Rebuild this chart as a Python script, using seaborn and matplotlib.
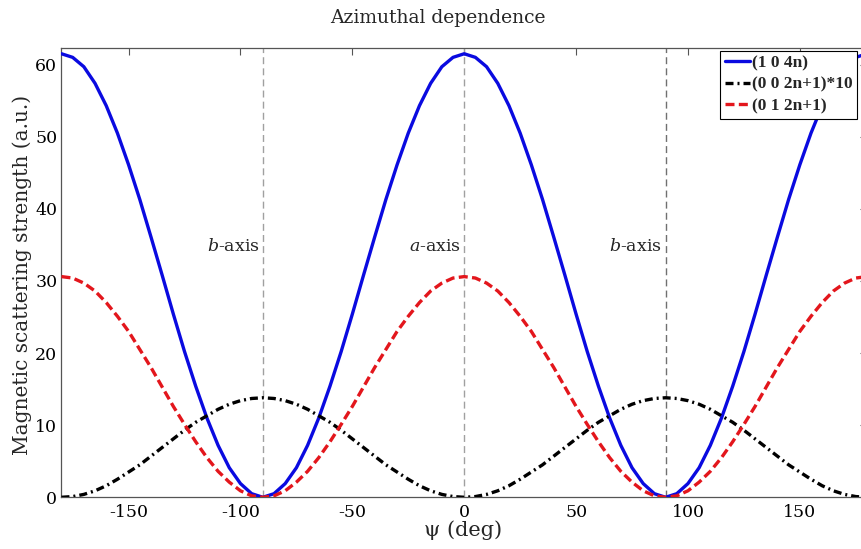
import matplotlib
matplotlib.use("Agg")
import matplotlib.pyplot as plt
import seaborn as sns
import pandas as pd

# Azimuthal angle psi (deg), sampled every 5 degrees
psi = list(range(-180, 181, 5))

# (1 0 4n) reflection intensity
i_104n = [61.5, 61.0, 59.7, 57.4, 54.3, 50.5, 46.1, 41.3, 36.1, 30.8, 25.4, 20.2, 15.4, 11.0, 7.2, 4.1, 1.9, 0.5, 0.0,
          0.5, 1.9, 4.1, 7.2, 11.0, 15.4, 20.2, 25.4, 30.8, 36.1, 41.3, 46.1, 50.5, 54.3, 57.4, 59.7, 61.0, 61.5,
          61.0, 59.7, 57.4, 54.3, 50.5, 46.1, 41.3, 36.1, 30.8, 25.4, 20.2, 15.4, 11.0, 7.2, 4.1, 1.9, 0.5, 0.0,
          0.5, 1.9, 4.1, 7.2, 11.0, 15.4, 20.2, 25.4, 30.8, 36.1, 41.3, 46.1, 50.5, 54.3, 57.4, 59.7, 61.0, 61.5]

# (0 0 2n+1) reflection intensity, scaled by 10
i_002n1 = [0.0, 0.1, 0.4, 0.9, 1.6, 2.5, 3.5, 4.5, 5.7, 6.9, 8.1, 9.3, 10.4, 11.3, 12.2, 12.9, 13.4, 13.7, 13.8,
           13.7, 13.4, 12.9, 12.2, 11.3, 10.4, 9.3, 8.1, 6.9, 5.7, 4.5, 3.5, 2.5, 1.6, 0.9, 0.4, 0.1, 0.0,
           0.1, 0.4, 0.9, 1.6, 2.5, 3.5, 4.5, 5.7, 6.9, 8.1, 9.3, 10.4, 11.3, 12.2, 12.9, 13.4, 13.7, 13.8,
           13.7, 13.4, 12.9, 12.2, 11.3, 10.4, 9.3, 8.1, 6.9, 5.7, 4.5, 3.5, 2.5, 1.6, 0.9, 0.4, 0.1, 0.0]

# (0 1 2n+1) reflection intensity
i_012n1 = [30.6, 30.4, 29.7, 28.6, 27.0, 25.1, 23.0, 20.5, 18.0, 15.3, 12.6, 10.1, 7.7, 5.5, 3.6, 2.1, 0.9, 0.2, 0.0,
           0.2, 0.9, 2.1, 3.6, 5.5, 7.7, 10.1, 12.6, 15.3, 18.0, 20.5, 23.0, 25.1, 27.0, 28.6, 29.7, 30.4, 30.6,
           30.4, 29.7, 28.6, 27.0, 25.1, 23.0, 20.5, 18.0, 15.3, 12.6, 10.1, 7.7, 5.5, 3.6, 2.1, 0.9, 0.2, 0.0,
           0.2, 0.9, 2.1, 3.6, 5.5, 7.7, 10.1, 12.6, 15.3, 18.0, 20.5, 23.0, 25.1, 27.0, 28.6, 29.7, 30.4, 30.6]

series_labels = ["(1 0 4n)", "(0 0 2n+1)*10", "(0 1 2n+1)"]

# Crystal axes marked by vertical guides
axis_positions = [-90, 0, 90]
axis_names = ["$\\it{b}$-axis", "$\\it{a}$-axis", "$\\it{b}$-axis"]

x_ticks = [-150, -100, -50, 0, 50, 100, 150]
y_ticks = [0, 10, 20, 30, 40, 50, 60]

sns.set_style("white")
plt.rcParams["font.family"] = ["DejaVu Serif"]
plt.rcParams["mathtext.fontset"] = "dejavuserif"
plt.rcParams["axes.unicode_minus"] = False

df = pd.DataFrame({"psi": psi, "a": i_104n, "b": i_002n1, "c": i_012n1})

fig = plt.figure(figsize=(8.61, 5.49), dpi=100)
ax = fig.add_axes([0.0714, 0.0942, 0.9355, 0.8184])

for xv, col in zip(axis_positions, ["#a0a0a0", "#a0a0a0", "#707070"]):
    ax.axvline(xv, color=col, lw=1.0, dashes=(5, 3), zorder=1)

sns.lineplot(data=df, x="psi", y="a", ax=ax, color="#0a0ae0", lw=2.4,
             label=series_labels[0], zorder=3)
sns.lineplot(data=df, x="psi", y="b", ax=ax, color="black", lw=2.4,
             dashes=(2.4, 1.2, 0.6, 1.2), label=series_labels[1], zorder=3)
sns.lineplot(data=df, x="psi", y="c", ax=ax, color="#e3161c", lw=2.4,
             dashes=(2.7, 1.3), label=series_labels[2], zorder=3)

for xv, name in zip(axis_positions, axis_names):
    ax.text(xv - 1.5, 34.8, name, ha="right", va="center", fontsize=12.5)

ax.set_xlim(-180, 180)
ax.set_ylim(0, 62.3)
ax.set_xticks(x_ticks)
ax.set_yticks(y_ticks)
ax.tick_params(direction="in", length=5, width=0.8, colors="#555555",
               labelcolor="black", labelsize=12.5, top=True, right=True)
ax.tick_params(axis="x", pad=5)
ax.tick_params(axis="y", pad=3)
for sp in ax.spines.values():
    sp.set_color("#555555")
    sp.set_linewidth(0.9)

ax.set_xlabel("ψ (deg)", fontsize=15)
ax.set_ylabel("Magnetic scattering strength (a.u.)", fontsize=14.5)
ax.xaxis.set_label_coords(0.498, -0.052)
ax.yaxis.set_label_coords(-0.036, 0.495)

fig.text(438 / 861, 1 - 18 / 549, "Azimuthal dependence", ha="center", va="center", fontsize=13.5)

leg = ax.legend(loc="upper right", bbox_to_anchor=(857 / 861, 1 - 51 / 549),
                bbox_transform=fig.transFigure, borderaxespad=0, frameon=True,
                fancybox=False, edgecolor="black", framealpha=1,
                prop={"family": "Liberation Serif", "weight": "bold", "size": 12.5},
                handlelength=1.45, handletextpad=0.12, labelspacing=0.3, borderpad=0.25)
leg.get_frame().set_linewidth(0.8)

fig.savefig("out.png", dpi=100)
